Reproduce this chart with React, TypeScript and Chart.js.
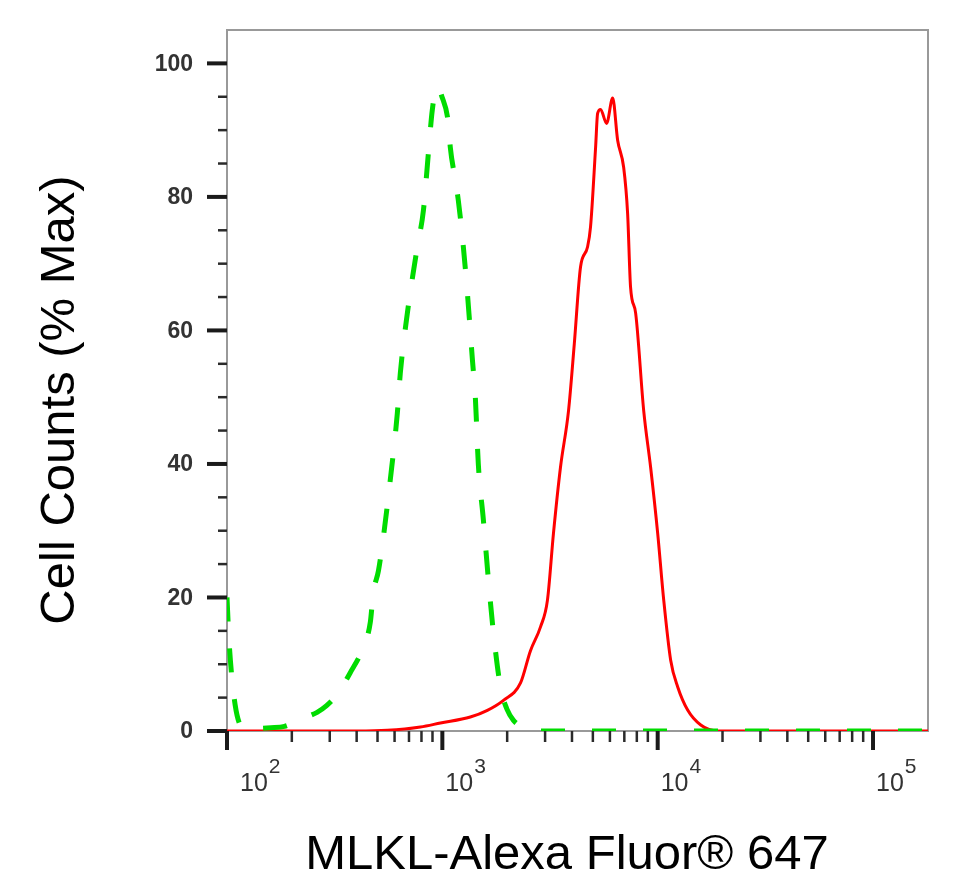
import React, { useEffect, useRef } from 'react';
import { Chart, registerables } from 'chart.js';

Chart.register(...registerables);

// isotype control (green, dashed)
const controlX = [
  100, 102, 105, 109, 114, 120, 135, 160, 185, 203, 230, 262, 290, 325, 373, 430, 463, 478, 505, 532,
  573, 618, 638, 688, 765, 817, 861, 898, 940, 965, 985, 1067, 1089, 1149, 1186, 1239, 1307, 1380,
  1423, 1469, 1551, 1637, 1727, 1862, 2000, 2139, 2350, 2564, 3000, 10000, 180000,
];
const controlY = [
  20, 14, 8.5, 4, 1.2, 0.4, 0.4, 0.5, 0.7, 1.2, 2, 2.8, 3.8, 5.5, 8.7, 12.6, 16.3, 20.7, 24, 29,
  37.6, 47.6, 53.6, 62.6, 72.5, 78, 86.5, 93, 96.4, 96.5, 95.5, 91, 87.4, 82.5, 79.5, 74, 65.6, 55.5,
  50, 40, 31.6, 22.6, 14.7, 6.6, 3.2, 1.6, 0.6, 0.1, 0, 0, 0,
];

// MLKL stained sample (red, solid)
const mlklX = [
  100, 400, 555, 791, 980, 1349, 1618, 1922, 2307, 2564, 2857, 3077, 3281, 3537, 3855, 4100, 4382,
  4723, 4877, 5148, 5261, 5431, 5790, 6180, 6516, 6952, 7251, 7482, 7900, 8610, 9272, 10000, 10667,
  11489, 12388, 13800, 15849, 19011, 180000,
];
const mlklY = [
  0, 0, 0.1, 0.6, 1.2, 2.1, 3.1, 4.6, 7.2, 12, 15.6, 19.6, 29.6, 39.5, 48, 58, 69.5,
  72.5, 75.5, 87.4, 92.5, 93.1, 91, 94.8, 88.5, 84.4, 77.5, 66.5, 62.6, 48, 39.5, 29.6, 19.6,
  10.6, 6.6, 3.1, 0.9, 0, 0,
];

const yMajorTicks = [0, 20, 40, 60, 80, 100];
const yMinorTicks = [5, 10, 15, 25, 30, 35, 45, 50, 55, 65, 70, 75, 85, 90, 95];
const xDecades = [2, 3, 4, 5];
const xMinorMultipliers = [2, 3, 4, 5, 6, 7, 8, 9];

const xTitle = 'MLKL-Alexa Fluor® 647';
const yTitle = 'Cell Counts (% Max)';

const FONT = '"Liberation Sans", Arial, Helvetica, sans-serif';

// frame, ticks, labels and titles drawn FlowJo-style
const flowAxesPlugin = {
  id: 'flowAxes',
  beforeDatasetsDraw(chart: any) {
    const { ctx, chartArea: a, scales } = chart;
    const xs = scales.x;
    const ys = scales.y;
    ctx.save();

    ctx.strokeStyle = '#999';
    ctx.lineWidth = 2;
    ctx.strokeRect(a.left, a.top, a.right - a.left, a.bottom - a.top);

    // y ticks
    ctx.strokeStyle = '#2a2a2a';
    ctx.lineWidth = 2.5;
    yMinorTicks.forEach(v => {
      const py = ys.getPixelForValue(v);
      ctx.beginPath();
      ctx.moveTo(a.left - 9, py);
      ctx.lineTo(a.left, py);
      ctx.stroke();
    });
    ctx.strokeStyle = '#1a1a1a';
    ctx.lineWidth = 4;
    ctx.fillStyle = '#333';
    ctx.font = `bold 23px ${FONT}`;
    ctx.textAlign = 'right';
    ctx.textBaseline = 'middle';
    yMajorTicks.forEach(v => {
      const py = ys.getPixelForValue(v);
      ctx.beginPath();
      ctx.moveTo(a.left - 20, py);
      ctx.lineTo(a.left, py);
      ctx.stroke();
      ctx.fillText(String(v), a.left - 34, py + 1);
    });

    // x ticks
    ctx.strokeStyle = '#2a2a2a';
    ctx.lineWidth = 2.5;
    xDecades.forEach(d => {
      xMinorMultipliers.forEach(m => {
        const v = m * Math.pow(10, d);
        if (v > xs.max) return;
        const px = xs.getPixelForValue(v);
        ctx.beginPath();
        ctx.moveTo(px, a.bottom);
        ctx.lineTo(px, a.bottom + 11);
        ctx.stroke();
      });
    });
    ctx.strokeStyle = '#1a1a1a';
    ctx.lineWidth = 4;
    ctx.textAlign = 'left';
    ctx.textBaseline = 'alphabetic';
    xDecades.forEach(d => {
      const px = xs.getPixelForValue(Math.pow(10, d));
      ctx.beginPath();
      ctx.moveTo(px, a.bottom);
      ctx.lineTo(px, a.bottom + 19);
      ctx.stroke();
      const lx = Math.max(px + 3, a.left + 13);
      ctx.font = `25px ${FONT}`;
      ctx.fillText('10', lx, a.bottom + 60);
      const w = ctx.measureText('10').width;
      ctx.font = `21px ${FONT}`;
      ctx.fillText(String(d), lx + w + 1, a.bottom + 42);
    });

    // axis titles
    ctx.fillStyle = '#000';
    ctx.font = `49px ${FONT}`;
    ctx.textAlign = 'center';
    ctx.fillText(xTitle, 567, a.bottom + 138);
    ctx.translate(74, 400);
    ctx.rotate(-Math.PI / 2);
    ctx.fillText(yTitle, 0, 0);

    ctx.restore();
  },
};

const App: React.FC = () => {
  const chartRef = useRef<HTMLCanvasElement>(null);
  const chartInstanceRef = useRef<Chart | null>(null);

  useEffect(() => {
    if (!chartRef.current) return;
    if (chartInstanceRef.current) {
      chartInstanceRef.current.destroy();
    }
    const ctx = chartRef.current.getContext('2d');
    if (!ctx) return;

    chartInstanceRef.current = new Chart(ctx, {
      type: 'line',
      data: {
        datasets: [
          {
            label: 'Isotype control',
            data: controlX.map((x, i) => ({ x, y: controlY[i] })),
            borderColor: '#00dc00',
            borderWidth: 5,
            borderDash: [24, 27],
            pointRadius: 0,
            cubicInterpolationMode: 'monotone',
            fill: false,
            order: 0,
          },
          {
            label: 'MLKL',
            data: mlklX.map((x, i) => ({ x, y: mlklY[i] })),
            borderColor: '#ff0000',
            borderWidth: 3,
            pointRadius: 0,
            cubicInterpolationMode: 'monotone',
            fill: false,
            order: 1,
          },
        ],
      },
      options: {
        responsive: true,
        maintainAspectRatio: false,
        animation: false,
        layout: {
          padding: { left: 227, right: 28, top: 30, bottom: 157 },
        },
        plugins: {
          legend: { display: false },
          tooltip: { enabled: false },
        },
        scales: {
          x: {
            type: 'logarithmic',
            min: 100,
            max: 180000,
            display: false,
          },
          y: {
            type: 'linear',
            min: 0,
            max: 105,
            display: false,
          },
        },
      },
      plugins: [flowAxesPlugin],
    });

    return () => {
      if (chartInstanceRef.current) {
        chartInstanceRef.current.destroy();
        chartInstanceRef.current = null;
      }
    };
  }, []);

  return (
    <div style={{ position: 'fixed', left: 0, top: 0, width: 956, height: 888, background: '#fff' }}>
      <canvas ref={chartRef}></canvas>
    </div>
  );
};

export default App;
